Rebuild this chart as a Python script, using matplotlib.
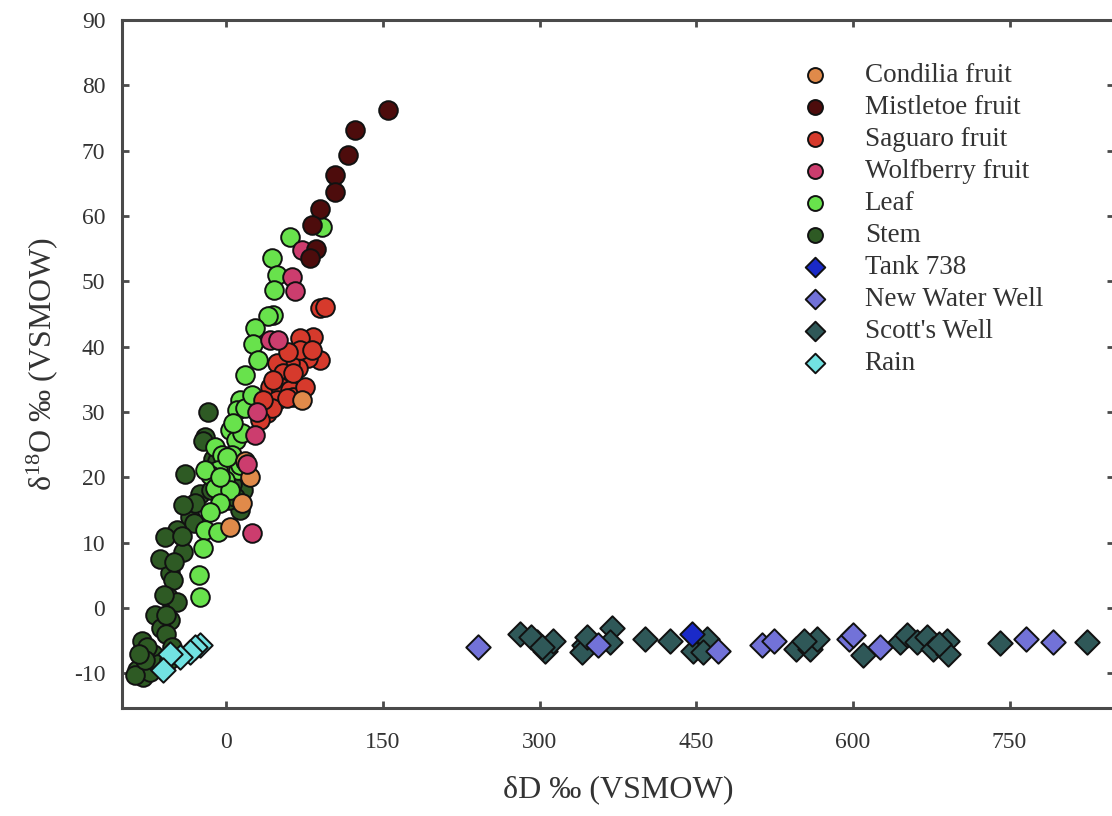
import matplotlib
matplotlib.use("Agg")
import matplotlib.pyplot as plt

plt.rcParams['font.family'] = ['Liberation Serif', 'DejaVu Serif']
plt.rcParams['mathtext.fontset'] = 'custom'
plt.rcParams['mathtext.rm'] = 'Liberation Serif'
plt.rcParams['mathtext.it'] = 'Liberation Serif:italic'
plt.rcParams['axes.unicode_minus'] = False

# dD / d18O pairs per sample type
condilia_dd = [72, 22.5, 3.4, 18, 15]
condilia_do = [31.8, 20, 12.4, 22.5, 16]

mistletoe_dd = [155, 123, 116.5, 104, 104, 89.6, 82, 86, 80]
mistletoe_do = [76.3, 73.2, 69.4, 66.3, 63.7, 61, 58.6, 55, 53.6]

saguaro_dd = [89.6, 94, 83, 70.5, 89.6, 78, 68.5, 61, 48, 54, 64, 42, 51, 61,
              64, 48, 39, 43.5, 58, 75, 70.5, 59, 82, 35, 32, 44.5, 64]
saguaro_do = [45.9, 46, 41.5, 41.3, 38, 38.3, 36.8, 37.5, 37.5, 36, 34.9, 33.8,
              33.8, 33.4, 32.3, 31.9, 29.9, 30.6, 32.2, 33.8, 39.5, 39.2, 39.5,
              31.9, 28.8, 34.9, 36]

wolfberry_dd = [72, 63, 66, 42, 49, 29, 27, 19.5, 24.5]
wolfberry_do = [54.8, 50.7, 48.5, 41, 41, 30, 26.5, 22, 11.5]

leaf_dd = [91.6, 61, 43.6, 48.4, 45.5, 44.6, 40, 27.3, 25.4, 30, 17.7, 13, 10,
           17.7, 3.4, 9, -11, -4.3, 5.3, 1.4, -8, -15.8, 11, -1.4, -11, -20.6,
           3.4, -6.2, -15.8, -20.6, -22.5, -26.4, -25.4, -8, 13, 24.4, 15, 6.7,
           0.5, -6]
leaf_do = [58.3, 56.8, 53.6, 51, 48.7, 44.9, 44.7, 42.9, 40.4, 38, 35.7, 31.9,
           30.3, 30.6, 27.3, 25.7, 24.7, 23.4, 23.4, 21.9, 21.1, 20.4, 21.1,
           19.6, 18.4, 21.1, 18, 16, 14.7, 11.9, 9.2, 5, 1.7, 11.6, 21.9, 32.6,
           26.8, 28.3, 23.1, 20]

stem_dd = [-17.7, -20.6, -40, -22.5, -13, 16, 13, -25, -35, -47.5, -59, -41.6,
           -54, -51, -56, -47, -68.5, -54, -81, -70, -86, -80, -73, -9, 2, -31,
           -60, -63, -76, -58, -52, -88, -30, -15, 5, -5, -43, -64, -50, -58,
           -66, -78, -84, -55, 8, -41.6]
stem_do = [30, 26.2, 20.5, 25.5, 22.8, 18, 15, 17.4, 14, 12, 10.8, 8.5, 5.4,
           4.3, 1.7, 1, -1, -1.8, -5, -7, -9.5, -10.6, -9.8, 22.5, 16.5, 13, 2,
           -3, -6, -4, -6, -10.3, 16, 18, 19, 17, 11, 7.5, 7, -1, -8.5, -8, -7,
           -8, 17, 15.8]

tank_dd = [446]
tank_do = [-3.9]

newwell_dd = [241, 356, 471, 513, 524, 596, 600.5, 626, 766, 792]
newwell_do = [-6, -5.7, -6.5, -5.7, -5, -4.7, -4.1, -6, -4.7, -5.2]

scott_dd = [281, 297.5, 305, 313, 292, 342, 341, 369.5, 367.5, 345, 401, 425,
            460.5, 447, 456.5, 545, 559, 566, 553, 610, 645.5, 652, 661.5, 671,
            677, 690, 691.5, 741, 824, 682, 302]
scott_do = [-3.9, -5.2, -6.5, -5, -4.5, -5.7, -6.7, -3.1, -5.2, -4.5, -4.7, -5,
            -4.7, -6.5, -6.7, -6.2, -6.2, -4.7, -5, -7.2, -5.2, -4.1, -5.2, -4.4,
            -6.2, -5, -7, -5.4, -5.2, -5.5, -6]

rain_dd = [-25.4, -30, -35, -44.6, -54, -61]
rain_do = [-5.7, -6, -6.8, -7.5, -7, -9.5]

series = [
    ("Condilia fruit", condilia_dd, condilia_do, "o", "#E08A4A", 5),
    ("Mistletoe fruit", mistletoe_dd, mistletoe_do, "o", "#4D0C0C", 6),
    ("Saguaro fruit", saguaro_dd, saguaro_do, "o", "#D63A2C", 4),
    ("Wolfberry fruit", wolfberry_dd, wolfberry_do, "o", "#CC3D6E", 5),
    ("Leaf", leaf_dd, leaf_do, "o", "#68E24C", 3),
    ("Stem", stem_dd, stem_do, "o", "#2E5A24", 2),
    ("Tank 738", tank_dd, tank_do, "D", "#1A2AC8", 4),
    ("New Water Well", newwell_dd, newwell_do, "D", "#7272D8", 3),
    ("Scott's Well", scott_dd, scott_do, "D", "#2F5858", 2),
    ("Rain", rain_dd, rain_do, "D", "#72E2E2", 3),
]

fig = plt.figure(figsize=(11.12, 8.16), dpi=100)
ax = fig.add_axes([122 / 1112, 1 - 708 / 816, 992 / 1112, 688 / 816])

for label, xs, ys, mk, col, z in series:
    size = 180 if mk == "o" else 155
    ax.scatter(xs, ys, s=size, marker=mk, c=col, edgecolors="#111111",
               linewidths=1.4, label=label, zorder=z)

ax.set_xlim(-100, 850)
ax.set_ylim(-15.3, 90)
ax.set_xticks([0, 150, 300, 450, 600, 750])
ax.set_yticks(range(-10, 91, 10))

for sp in ax.spines.values():
    sp.set_color("#4a4a4a")
    sp.set_linewidth(2.2)
ax.tick_params(direction="in", length=5, width=2, color="#4a4a4a",
               top=True, right=True, labelsize=17, labelcolor="#333333")
ax.tick_params(axis="x", pad=17)
ax.tick_params(axis="y", pad=12)

ax.set_xlabel("δD ‰ (VSMOW)", fontsize=23, color="#333333", labelpad=16)
ax.set_ylabel("δ$^{18}$O ‰ (VSMOW)", fontsize=23, color="#333333", labelpad=10)

leg = ax.legend(loc="upper left", bbox_to_anchor=(0.660, 0.9535), frameon=False,
                fontsize=19.5, markerscale=0.8, labelspacing=0.26,
                handletextpad=0.85, borderaxespad=0)
for t in leg.get_texts():
    t.set_color("#333333")

fig.savefig("out.png", dpi=100)
